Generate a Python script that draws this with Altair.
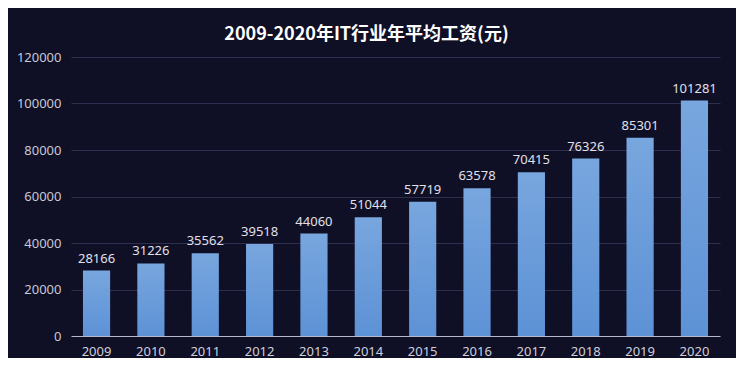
import altair as alt
import pandas as pd

years = ["2009", "2010", "2011", "2012", "2013", "2014", "2015", "2016", "2017", "2018", "2019", "2020"]
salaries = [28166, 31226, 35562, 39518, 44060, 51044, 57719, 63578, 70415, 76326, 85301, 101281]
y_ticks = [0, 20000, 40000, 60000, 80000, 100000, 120000]
title_text = "2009-2020年IT行业年平均工资(元)"

df = pd.DataFrame({"year": years, "salary": salaries})

FONT = "Noto Sans"

x = alt.X("year:N", sort=years, title=None,
          scale=alt.Scale(paddingInner=0.5, paddingOuter=0.22),
          axis=alt.Axis(labelAngle=0, labelColor="#d0d0dc", labelFontSize=13, labelFont=FONT,
                        labelPadding=9, ticks=False, domain=True, domainColor="#b8b8cc",
                        domainWidth=1.2, grid=False))
y = alt.Y("salary:Q", title=None,
          scale=alt.Scale(domain=[0, 120000], nice=False),
          axis=alt.Axis(values=y_ticks, format="d", labelColor="#c8c8d4", labelFontSize=13,
                        labelFont=FONT, labelPadding=10, ticks=False, domain=False,
                        grid=True, gridColor="#2e2e4e", gridWidth=1))

bars = alt.Chart(df).mark_bar(
    color=alt.Gradient(
        gradient="linear", x1=0, x2=0, y1=0, y2=1,
        stops=[alt.GradientStop(color="#78a6de", offset=0),
               alt.GradientStop(color="#5d92d6", offset=1)]
    )
).encode(x=x, y=y)

labels = alt.Chart(df).mark_text(
    baseline="bottom", dy=-5, fontSize=13, font=FONT, color="#e0e0ea"
).encode(x=alt.X("year:N", sort=years), y="salary:Q", text=alt.Text("salary:Q", format="d"))

chart = (bars + labels).properties(
    width=649, height=279,
    title=alt.TitleParams(title_text, color="#ffffff", fontSize=18, fontWeight="bold",
                          font="Noto Sans CJK SC", anchor="middle", dx=-29, offset=7),
    background="#0f0f26",
    padding={"left": 63, "top": 49, "right": 16, "bottom": 22},
    autosize=alt.AutoSizeParams(type="none"),
).configure_view(stroke=None)

chart.save("out.html", embed_options={"renderer": "svg", "actions": False})
